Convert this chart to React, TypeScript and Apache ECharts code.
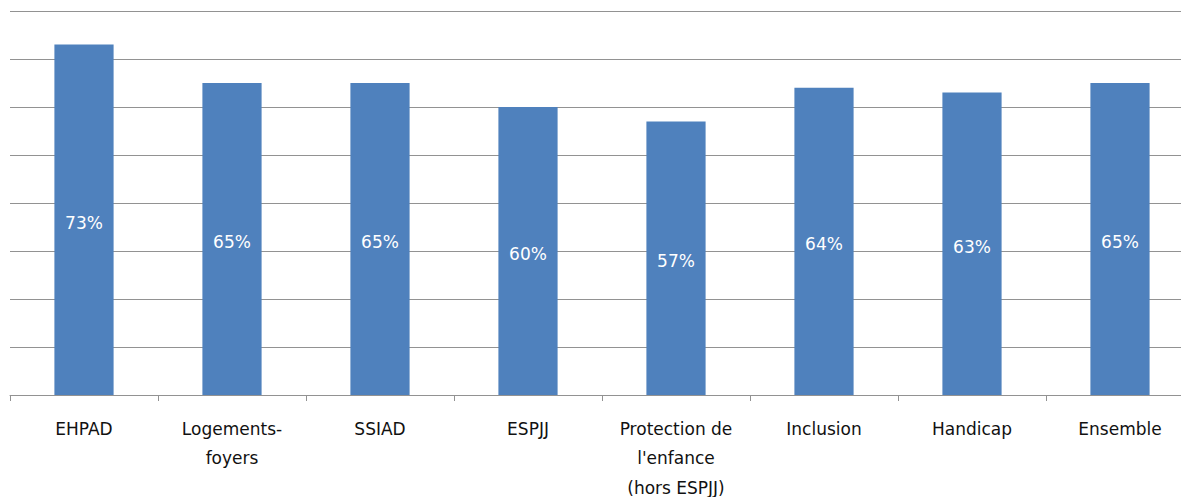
import React, { useEffect, useRef } from "react";
import * as echarts from "echarts";

const categories = [
  "EHPAD",
  "Logements-\nfoyers",
  "SSIAD",
  "ESPJJ",
  "Protection de\nl'enfance\n(hors ESPJJ)",
  "Inclusion",
  "Handicap",
  "Ensemble",
];
const shares = [73, 65, 65, 60, 57, 64, 63, 65];
const yMin = 0;
const yMax = 80;
const yStep = 10;

const FONT = "'DejaVu Sans', 'Open Sans', sans-serif";
const BAR = "#4F81BD";
const GRID = "#929292";

export default function App() {
  const ref = useRef<HTMLDivElement>(null);

  useEffect(() => {
    if (!ref.current) return;
    const chart = echarts.init(ref.current, null, { renderer: "svg" });
    chart.setOption({
      animation: false,
      backgroundColor: "#ffffff",
      grid: {
        left: 10,
        top: 11,
        width: 1184,
        height: 384,
        containLabel: false,
        outerBoundsMode: "none",
      },
      xAxis: {
        type: "category",
        data: categories,
        axisLine: { show: true, lineStyle: { color: GRID, width: 1 } },
        axisTick: { show: true, length: 6, alignWithLabel: false, lineStyle: { color: GRID } },
        axisLabel: {
          color: "#111111",
          fontFamily: FONT,
          fontSize: 17,
          lineHeight: 29.5,
          margin: 19,
          interval: 0,
        },
        splitLine: { show: false },
      },
      yAxis: {
        type: "value",
        min: yMin,
        max: yMax,
        interval: yStep,
        axisLabel: { show: false },
        axisLine: { show: false },
        axisTick: { show: false },
        splitLine: { show: true, lineStyle: { color: GRID, width: 1 } },
      },
      series: [
        {
          type: "bar",
          data: shares,
          barWidth: "40%",
          itemStyle: { color: BAR },
          label: {
            show: true,
            position: "inside",
            offset: [0, 3],
            color: "#ffffff",
            fontFamily: FONT,
            fontSize: 17,
            formatter: (p: any) => `${p.value}%`,
          },
        },
      ],
    });
    return () => chart.dispose();
  }, []);

  return (
    <div
      style={{
        position: "fixed",
        left: 0,
        top: 0,
        width: 1181,
        height: 497,
        overflow: "hidden",
        background: "#ffffff",
      }}
    >
      <div ref={ref} style={{ width: 1200, height: 497 }} />
    </div>
  );
}
